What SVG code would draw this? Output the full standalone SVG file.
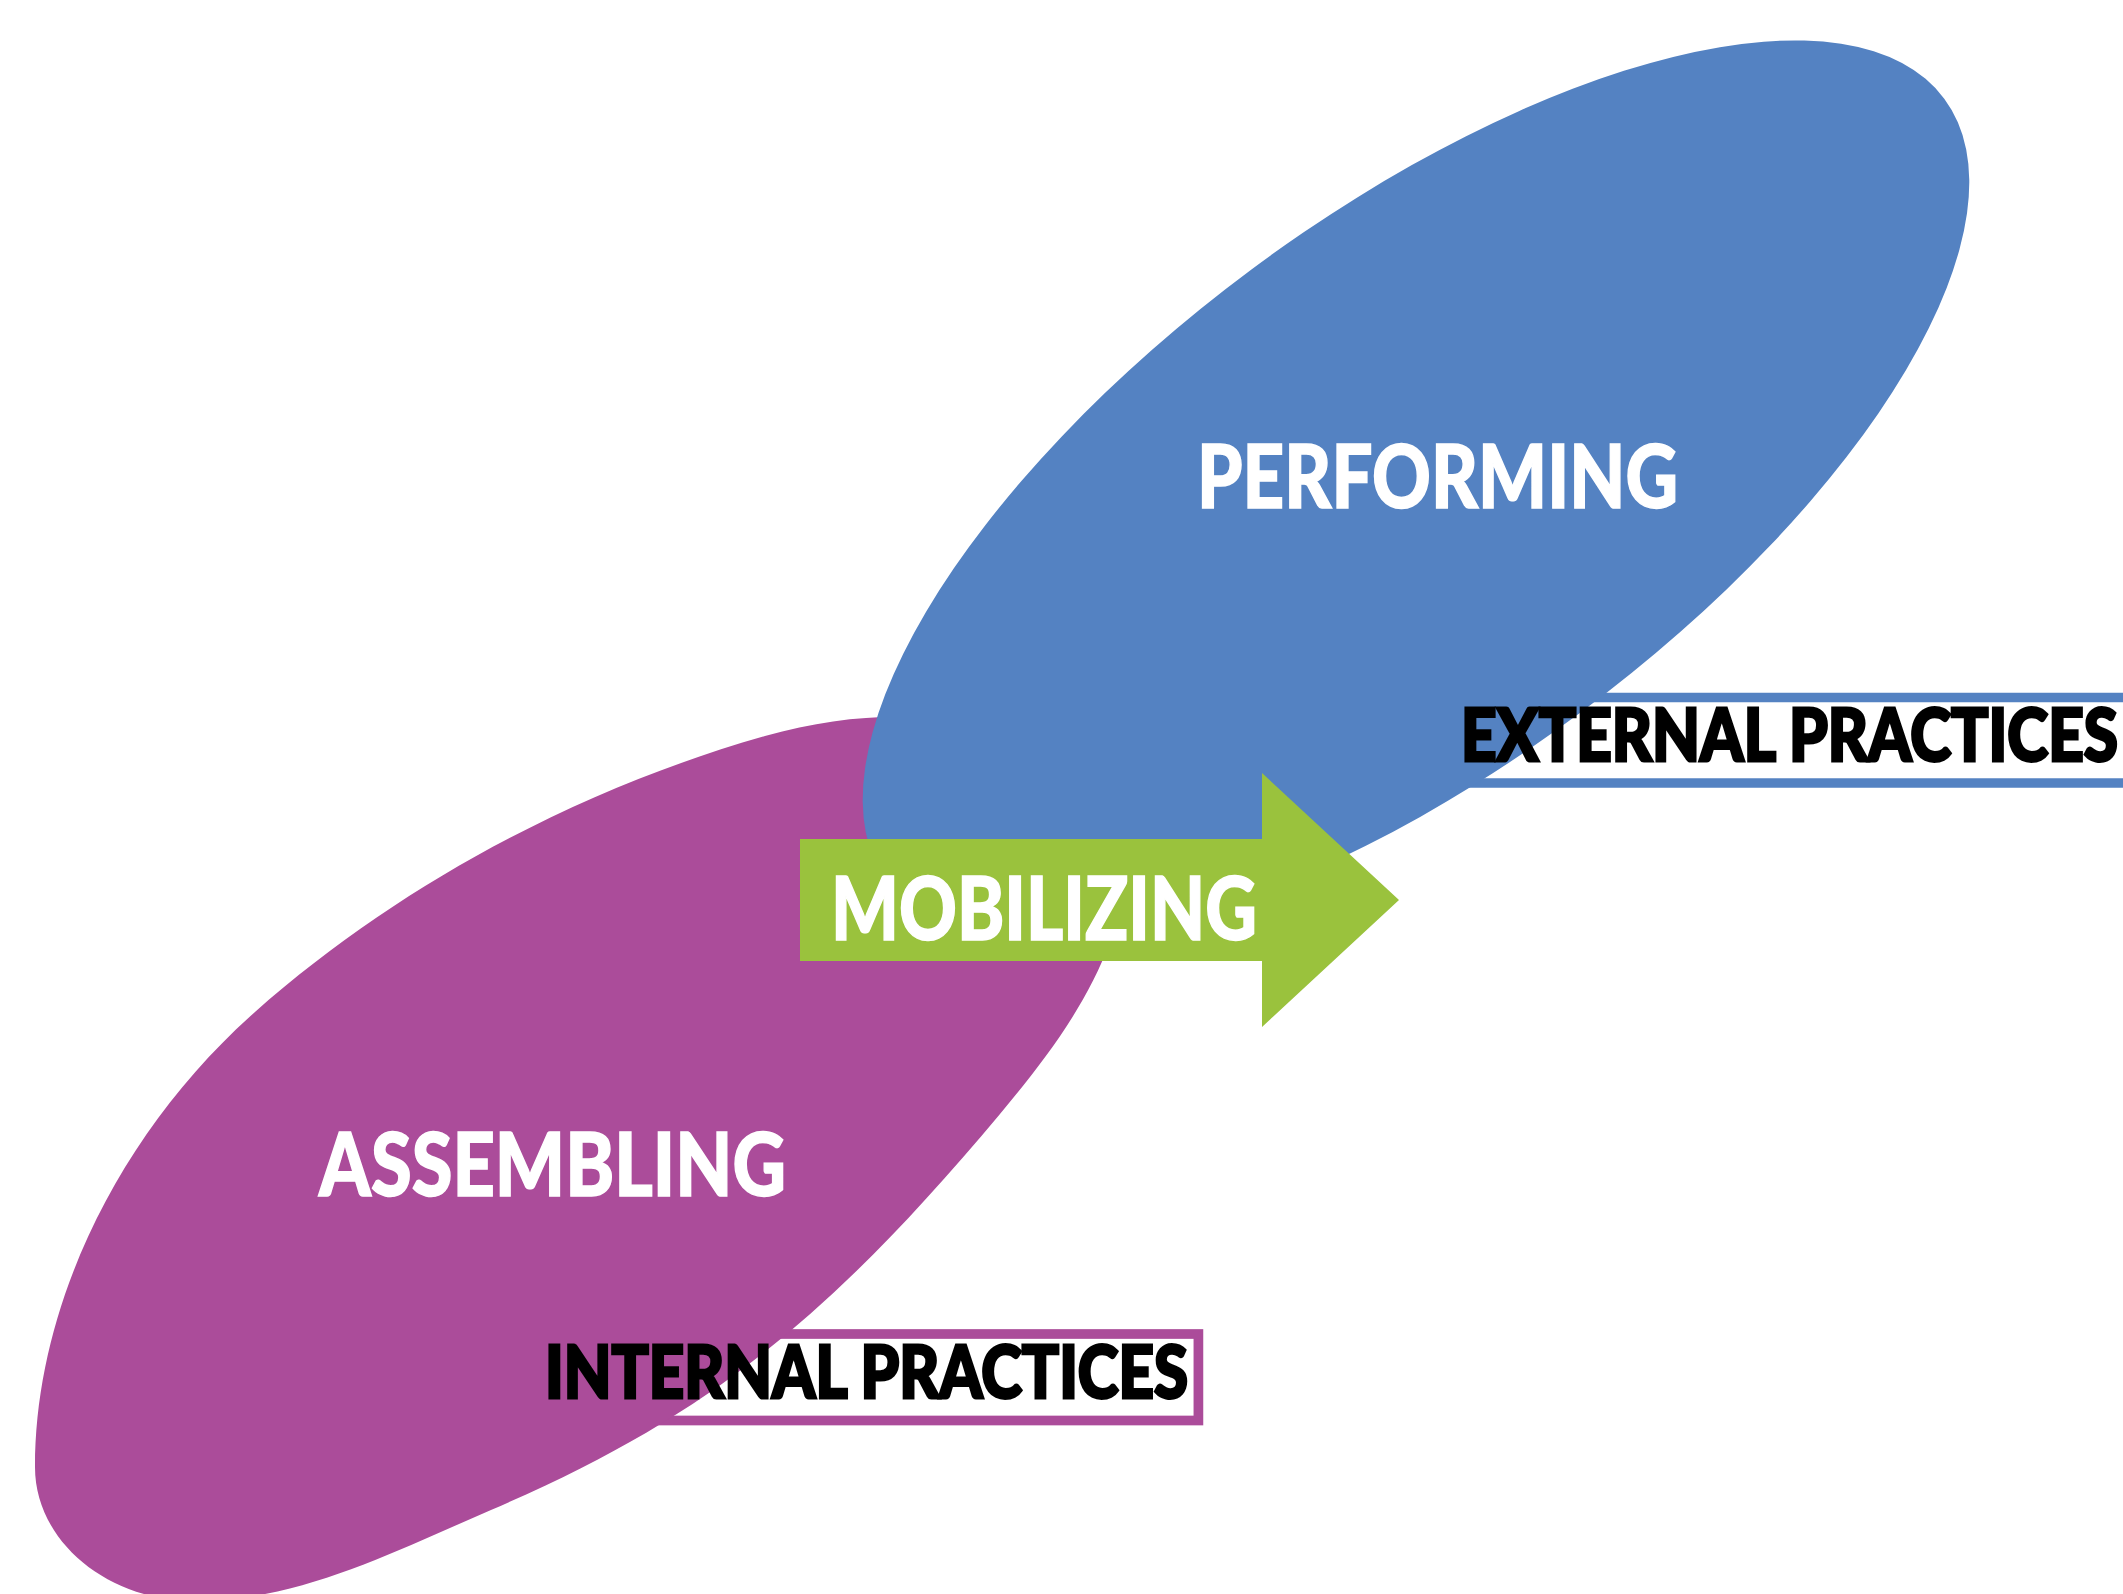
<svg xmlns="http://www.w3.org/2000/svg" width="2123" height="1594" viewBox="0 0 2123 1594">
  <style>
    .magenta { fill: #AB4C9A; }
    .blue { fill: #5482C2; }
    .green { fill: #9AC23D; }
    .box-m { fill: #FFFFFF; stroke: #AB4C9A; stroke-width: 9.7; }
    .box-b { fill: #FFFFFF; stroke: #5482C2; stroke-width: 9.5; }
    .white-label { fill: #FFFFFF; stroke: #FFFFFF; stroke-width: 1.5; font-family: Lato, "Liberation Sans", sans-serif; font-weight: 900; font-size: 88px; }
    .black-label { fill: #000000; stroke: #000000; stroke-width: 3; font-family: Lato, "Liberation Sans", sans-serif; font-weight: 900; font-size: 73px; }
  </style>
  <rect width="2123" height="1594" fill="#FFFFFF"/>
  <g id="internal-practices-box">
    <rect class="box-m" x="400" y="1334" width="798.4" height="86.5"/>
  </g>
  <g id="assembling">
    <path class="magenta" d="M 35 1467 C 35 1300, 124 1128, 255 1012 C 399.6 884.2, 579.5 789, 765 736 C 957 681, 1125 750, 1125 860 C 1125 955, 1061 1041, 1000 1114 C 833 1313, 712 1415, 491 1510 C 394.5 1551.5, 300 1601, 195 1601 C 107 1601, 35 1541, 35 1467 Z"/>
    <text class="white-label" x="319" y="1196" textLength="467" lengthAdjust="spacingAndGlyphs">ASSEMBLING</text>
  </g>
  <g id="external-practices-box">
    <rect class="box-b" x="1300" y="697.5" width="900" height="85.5"/>
  </g>
  <g id="performing">
    <ellipse class="blue" cx="1416" cy="491" rx="658" ry="276" transform="rotate(-36.6 1416 491)"/>
    <text class="white-label" x="1197" y="508" textLength="481" lengthAdjust="spacingAndGlyphs">PERFORMING</text>
  </g>
  <g id="connectors">
    <g id="mobilizing">
      <polygon class="green" points="800,839 1262,839 1262,773 1399,900 1262,1027 1262,961 800,961"/>
      <text class="white-label" x="831" y="940" textLength="426" lengthAdjust="spacingAndGlyphs">MOBILIZING</text>
    </g>
  </g>
  <g id="internal-practices">
    <text class="black-label" x="545" y="1398" textLength="643" lengthAdjust="spacingAndGlyphs">INTERNAL PRACTICES</text>
  </g>
  <g id="external-practices">
    <text class="black-label" x="1461" y="761" textLength="657" lengthAdjust="spacingAndGlyphs">EXTERNAL PRACTICES</text>
  </g>
</svg>
